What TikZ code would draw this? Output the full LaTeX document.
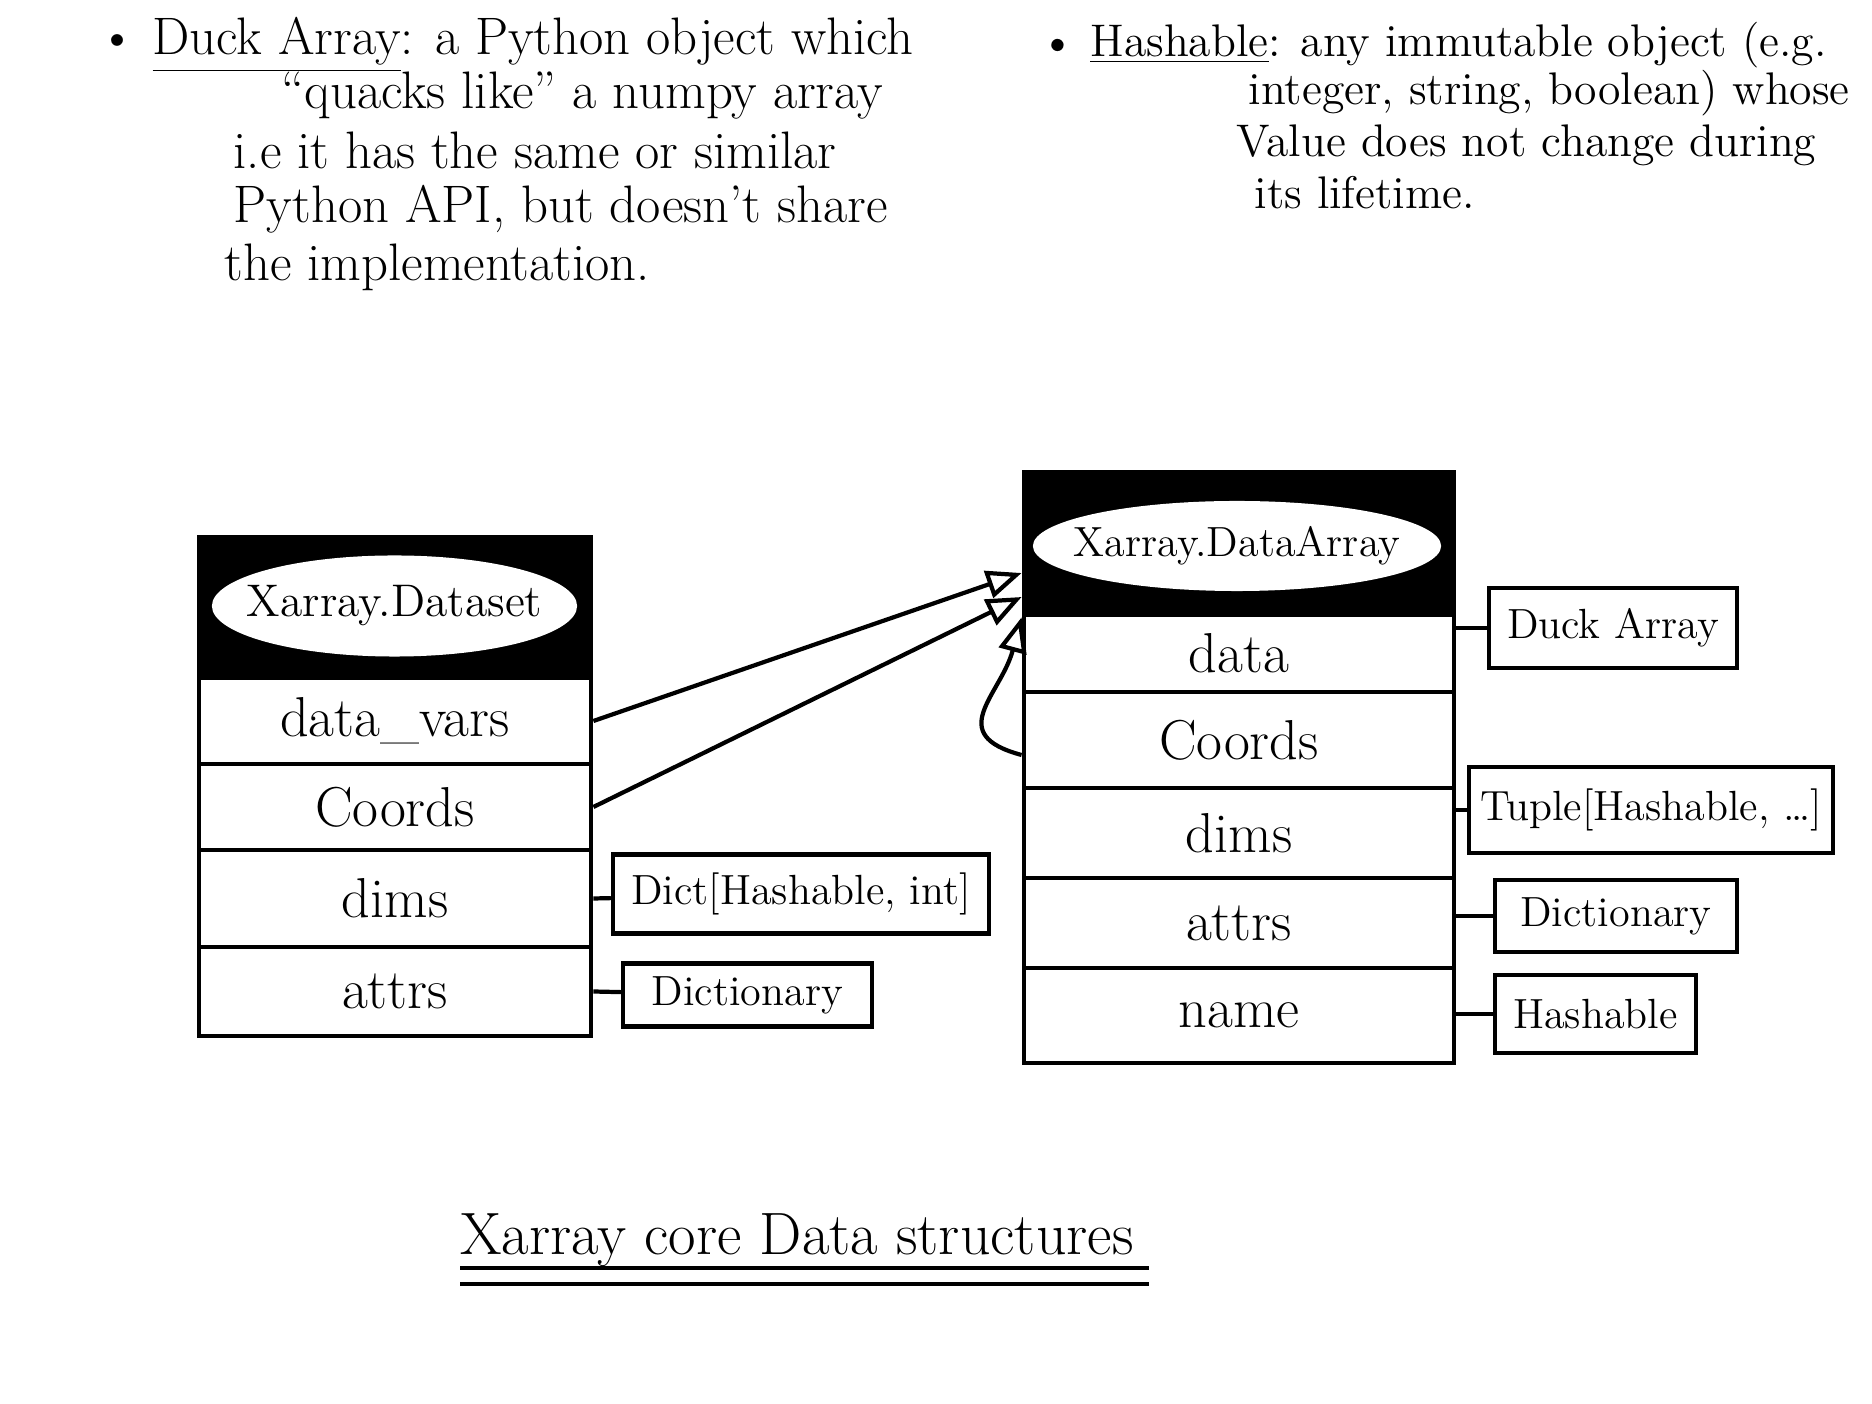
\documentclass[tikz,border=0pt]{standalone}
\usetikzlibrary{shapes.geometric,arrows.meta}

\begin{document}
\begin{tikzpicture}[x=0.01cm, y=-0.01cm,
	rowbox/.style={rectangle, draw, line width=1.3pt, inner sep=0pt, font=\fontsize{16}{18}\selectfont},
	headbox/.style={rectangle, draw, fill=black, line width=1.3pt, inner sep=0pt},
	namebox/.style={inner sep=0pt, font=\fontsize{13}{15}\selectfont},
	typebox/.style={rectangle, draw, line width=1.2pt, inner sep=0pt, font=\fontsize{12}{14}\selectfont},
	notes/.style={anchor=west, inner sep=0pt, font=\fontsize{15}{17}\selectfont},
	link/.style={line width=1.2pt, -{Triangle[open, length=3.5mm, width=2.8mm]}}]

	\useasboundingbox (0,0) rectangle (1872,1404);

% notes
	\node 	(n1)	at	(98,45)	[notes]{\textbullet\ \underline{Duck Array}: a Python object which};
	\node 	(n2)	at	(281,96)	[notes]{``quacks like'' a numpy array};
	\node 	(n3)	at	(233,150)	[notes]{i.e it has the same or similar};
	\node 	(n4)	at	(233,209)	[notes]{Python API, but doesn't share};
	\node 	(n5)	at	(224,267)	[notes]{the implementation.};

	\node 	(m1)	at	(1040,45)	[notes, font=\fontsize{13}{15}\selectfont]{\textbullet\ \underline{Hashable}: any immutable object (e.g.};
	\node 	(m2)	at	(1248,93)	[notes, font=\fontsize{13}{15}\selectfont]{integer, string, boolean) whose};
	\node 	(m3)	at	(1236,145)	[notes, font=\fontsize{13}{15}\selectfont]{Value does not change during};
	\node 	(m4)	at	(1254,193)	[notes, font=\fontsize{13}{15}\selectfont]{its lifetime.};

% Dataset
	\node 	(hdr1)		at	(395,607.5) 	[headbox, minimum width=3.92cm, minimum height=1.41cm]{};
	\fill[white]	(394.5,606)	ellipse [x radius=1.825cm, y radius=0.505cm];
	\node 	(ds)		at	(394.5,606) 	[namebox]{Xarray.Dataset};
	\node 	(vars1)		at	(395,721) 	[rowbox, minimum width=3.92cm, minimum height=0.86cm]{data\_vars};
	\node 	(coords1)	at	(395,807) 	[rowbox, minimum width=3.92cm, minimum height=0.86cm]{Coords};
	\node 	(dims1)		at	(395,898.5) 	[rowbox, minimum width=3.92cm, minimum height=0.97cm]{dims};
	\node 	(attrs1)	at	(395,991.5) 	[rowbox, minimum width=3.92cm, minimum height=0.89cm]{attrs};

	\node 	(dictA)		at	(801,894) 	[typebox, minimum width=3.76cm, minimum height=0.79cm]{Dict[Hashable, int]};
	\node 	(dictB)		at	(747.5,995) 	[typebox, minimum width=2.49cm, minimum height=0.63cm]{Dictionary};

% DataArray
	\node 	(hdr2)		at	(1239,543.5) 	[headbox, minimum width=4.30cm, minimum height=1.43cm]{};
	\fill[white]	(1237,546)	ellipse [x radius=2.04cm, y radius=0.45cm];
	\node 	(da)		at	(1237,546) 	[namebox, font=\fontsize{12}{14}\selectfont]{Xarray.DataArray};
	\node 	(data2)		at	(1239,653.5) 	[rowbox, minimum width=4.30cm, minimum height=0.77cm]{data};
	\node 	(coords2)	at	(1239,740) 	[rowbox, minimum width=4.30cm, minimum height=0.96cm]{Coords};
	\node 	(dims2)		at	(1239,833) 	[rowbox, minimum width=4.30cm, minimum height=0.90cm]{dims};
	\node 	(attrs2)	at	(1239,923) 	[rowbox, minimum width=4.30cm, minimum height=0.90cm]{attrs};
	\node 	(name2)		at	(1239,1015.5) 	[rowbox, minimum width=4.30cm, minimum height=0.95cm]{name};

	\node 	(duck)		at	(1613,628) 	[typebox, minimum width=2.48cm, minimum height=0.80cm]{Duck Array};
	\node 	(tuple)		at	(1651,810) 	[typebox, minimum width=3.64cm, minimum height=0.86cm]{Tuple[Hashable, \dots]};
	\node 	(dictC)		at	(1616,916) 	[typebox, minimum width=2.42cm, minimum height=0.72cm]{Dictionary};
	\node 	(hash)		at	(1595.5,1014) 	[typebox, minimum width=2.01cm, minimum height=0.78cm]{Hashable};

	\node 	(title)		at	(797,1240) 	[inner sep=0pt, font=\fontsize{17}{19}\selectfont]{Xarray core Data structures};

% type links
	\draw[line width=1.2pt]	(dims1.east)	--	(dictA);
	\draw[line width=1.2pt]	(attrs1.east)	--	(dictB);
	\draw[line width=1.2pt]	(duck.west -| data2.east)	--	(duck.west);
	\draw[line width=1.2pt]	(tuple.west -| dims2.east)	--	(tuple.west);
	\draw[line width=1.2pt]	(dictC.west -| attrs2.east)	--	(dictC.west);
	\draw[line width=1.2pt]	(hash.west -| name2.east)	--	(hash.west);

% arrows to DataArray
	\draw[link]	(vars1.east)	to	([yshift=-0.295cm]hdr2.west);
	\draw[link]	(coords1.east)	to	([yshift=-0.535cm]hdr2.west);
	\draw[link]	([yshift=-0.15cm]coords2.west)	to[out=165, in=255, looseness=1.5]	(hdr2.south west);

% title underline
	\draw[line width=1.2pt]	(460,1268)	--	(1149,1268);
	\draw[line width=1.2pt]	(460,1284)	--	(1149,1284);

\end{tikzpicture}
\end{document}
